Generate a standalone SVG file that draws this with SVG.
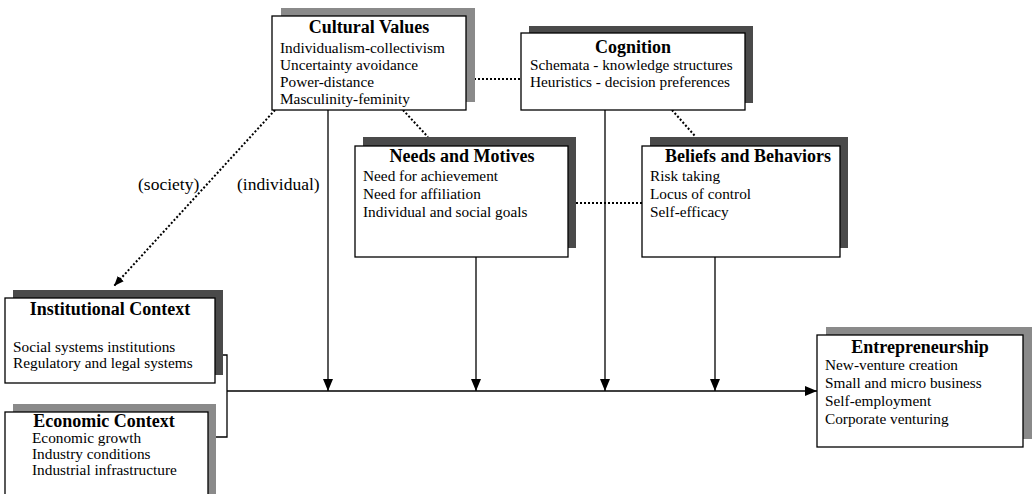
<svg xmlns="http://www.w3.org/2000/svg" width="1033" height="494" viewBox="0 0 1033 494">
<style>
.box{fill:#fff;stroke:#000;stroke-width:1.3}
.sh{fill:#4a4a4a}
.shl{fill:#8a8a8a}
.t{font-family:"Liberation Serif",serif;font-size:15.3px;fill:#000}
.lb{font-family:"Liberation Serif",serif;font-size:17.5px;fill:#000}
.h{font-family:"Liberation Serif",serif;font-size:18px;font-weight:bold;fill:#000;text-anchor:middle}
.ln{stroke:#000;stroke-width:1.3;fill:none}
.dot{stroke:#000;stroke-width:2;stroke-dasharray:2 2;fill:none}
</style>
<defs>
<marker id="ar" viewBox="0 0 12 10" refX="12" refY="5" markerWidth="12" markerHeight="10" markerUnits="userSpaceOnUse" orient="auto">
<path d="M0,0 L12,5 L0,10 Z" fill="#000"/>
</marker>
<marker id="ars" viewBox="0 0 10 8" refX="10" refY="4" markerWidth="10" markerHeight="8" markerUnits="userSpaceOnUse" orient="auto">
<path d="M0,0 L10,4 L0,8 Z" fill="#000"/>
</marker>
</defs>

<g id="connectors">
<line class="dot" x1="466" y1="79" x2="521" y2="79"/>
<line class="dot" x1="568" y1="203" x2="642" y2="203"/>
<line class="dot" x1="403" y1="110" x2="428" y2="137"/>
<line class="dot" x1="672" y1="110" x2="695" y2="136"/>
<line class="dot" x1="275" y1="110" x2="114" y2="286" marker-end="url(#ars)"/>
<polyline class="ln" points="223,355 227,355 227,437 216,437"/>
<line class="ln" x1="227" y1="391" x2="817" y2="391" marker-end="url(#ar)"/>
<line class="ln" x1="328" y1="110" x2="328" y2="391" marker-end="url(#ar)"/>
<line class="ln" x1="476" y1="257" x2="476" y2="391" marker-end="url(#ar)"/>
<line class="ln" x1="605" y1="110" x2="605" y2="391" marker-end="url(#ar)"/>
<line class="ln" x1="715" y1="257" x2="715" y2="391" marker-end="url(#ar)"/>
<text class="lb" x="138" y="190">(society)</text>
<text class="lb" x="237" y="190">(individual)</text>
</g>

<g id="cultural-values">
<rect class="shl" x="281" y="8" width="194" height="94"/>
<rect class="box" x="272" y="16" width="194" height="94"/>
<text class="h" x="369" y="33">Cultural Values</text>
<text class="t" x="280" y="53">Individualism-collectivism</text>
<text class="t" x="280" y="70">Uncertainty avoidance</text>
<text class="t" x="280" y="87">Power-distance</text>
<text class="t" x="280" y="104">Masculinity-feminity</text>
</g>

<g id="cognition">
<rect class="sh" x="529" y="26" width="224" height="77"/>
<rect class="box" x="521" y="33" width="224" height="77"/>
<text class="h" x="633" y="53">Cognition</text>
<text class="t" x="530" y="70">Schemata - knowledge structures</text>
<text class="t" x="530" y="87">Heuristics - decision preferences</text>
</g>

<g id="needs-motives">
<rect class="sh" x="363" y="137" width="213" height="111"/>
<rect class="box" x="355" y="146" width="213" height="111"/>
<text class="h" x="462" y="162">Needs and Motives</text>
<text class="t" x="363" y="181">Need for achievement</text>
<text class="t" x="363" y="199">Need for affiliation</text>
<text class="t" x="363" y="217">Individual and social goals</text>
</g>

<g id="beliefs-behaviors">
<rect class="sh" x="650" y="137" width="198" height="111"/>
<rect class="box" x="642" y="146" width="198" height="111"/>
<text class="h" x="748" y="162">Beliefs and Behaviors</text>
<text class="t" x="650" y="181">Risk taking</text>
<text class="t" x="650" y="199">Locus of control</text>
<text class="t" x="650" y="217">Self-efficacy</text>
</g>

<g id="institutional-context">
<rect class="sh" x="13" y="290" width="210" height="85"/>
<rect class="box" x="5" y="298" width="210" height="85"/>
<text class="h" x="110" y="315">Institutional Context</text>
<text class="t" x="13" y="352">Social systems institutions</text>
<text class="t" x="13" y="368">Regulatory and legal systems</text>
</g>

<g id="economic-context">
<rect class="shl" x="13" y="404" width="203" height="100"/>
<rect class="box" x="5" y="412" width="203" height="100"/>
<text class="h" x="104" y="427">Economic Context</text>
<text class="t" x="32" y="443">Economic growth</text>
<text class="t" x="32" y="459">Industry conditions</text>
<text class="t" x="32" y="475">Industrial infrastructure</text>
</g>

<g id="entrepreneurship">
<rect class="shl" x="826" y="327" width="206" height="112"/>
<rect class="box" x="817" y="335" width="206" height="112"/>
<text class="h" x="920" y="353">Entrepreneurship</text>
<text class="t" x="825" y="370">New-venture creation</text>
<text class="t" x="825" y="388">Small and micro business</text>
<text class="t" x="825" y="406">Self-employment</text>
<text class="t" x="825" y="424">Corporate venturing</text>
</g>
</svg>
